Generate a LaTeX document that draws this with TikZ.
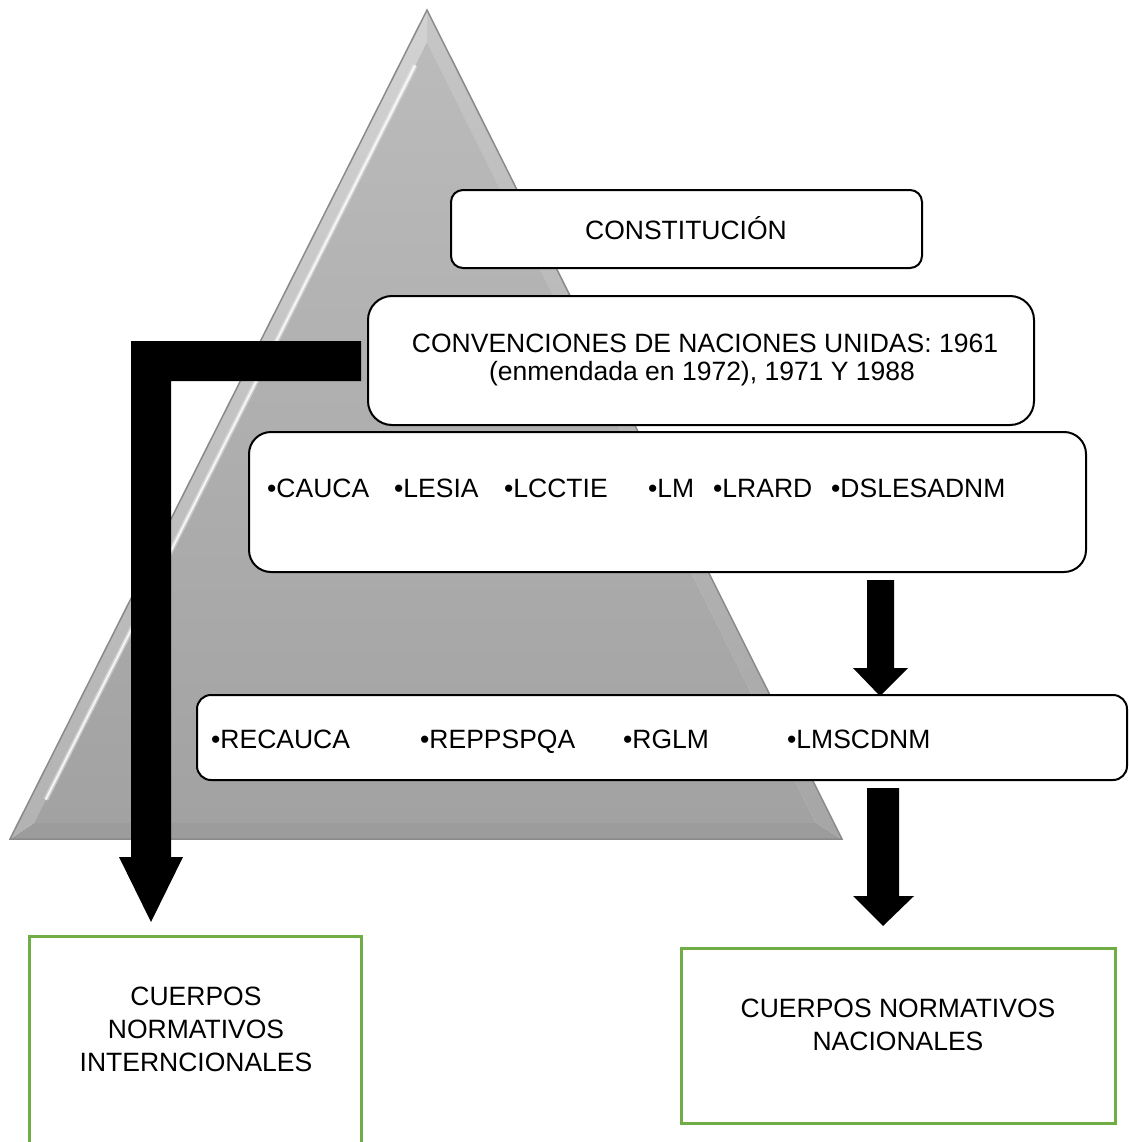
\documentclass[tikz,border=0pt]{standalone}
\usepackage{fontspec}
\setmainfont{Liberation Sans}
\usetikzlibrary{calc}
\begin{document}
\begin{tikzpicture}[x=1pt,y=-1pt,
  txt/.style={inner sep=0pt, font=\fontsize{26.5}{28}\selectfont},
  box/.style={draw=black, line width=2pt, fill=white, inner sep=0pt, rounded corners=#1},
  greenbox/.style={draw=boxgreen, line width=3pt, fill=white, inner sep=0pt},
  blockarrow/.style={fill=black}]
\definecolor{boxgreen}{HTML}{70AD47}
\definecolor{triedge}{HTML}{8A8A8A}
\definecolor{trileft}{HTML}{D2D2D2}
\definecolor{triright}{HTML}{C6C6C6}
\definecolor{tribase}{HTML}{9C9C9C}
\definecolor{trifacetop}{HTML}{BBBBBB}
\definecolor{trifacebot}{HTML}{A2A2A2}

\useasboundingbox (0,0) rectangle (1128,1142);
\clip (0,0) rectangle (1128,1142);

% bevelled pyramid
\coordinate (A) at (427,10);
\coordinate (L) at (10,839);
\coordinate (R) at (842,839);
\coordinate (a) at (427,42);
\coordinate (l) at (34,823);
\coordinate (r) at (816,823);
\fill[tribase] (L) -- (R) -- (r) -- (l) -- cycle;
\shade[top color=triright, bottom color=tribase!90!white] (A) -- (R) -- (r) -- (a) -- cycle;
\shade[top color=trileft, bottom color=trileft!85!black] (A) -- (L) -- (l) -- (a) -- cycle;
\shade[top color=trifacetop, bottom color=trifacebot] (a) -- (l) -- (r) -- cycle;
\draw[white, line width=5pt, opacity=0.35] ($(a)!0.03!(l)$) -- ($(a)!0.97!(l)$);
\draw[white, line width=2pt, opacity=0.8] ($(a)!0.03!(l)$) -- ($(a)!0.97!(l)$);
\draw[triedge, line width=1.5pt, line join=miter] (A) -- (L) -- (R) -- cycle;

% boxes
\node[box=12pt, minimum width=471pt, minimum height=78pt] (const) at (686.5,229) {};
\node[box=24pt, minimum width=666pt, minimum height=129pt] (conv) at (701,360.5) {};
\node[box=22pt, minimum width=837pt, minimum height=140pt] (leyes) at (667.5,502) {};
\node[box=14pt, minimum width=930pt, minimum height=85pt] (regl) at (662,737.5) {};
\node[greenbox, minimum width=332pt, minimum height=230pt] (intl) at (195,1051) {};
\node[greenbox, minimum width=434pt, minimum height=175pt] (nac) at (898,1035.5) {};

% texts
\node[txt, anchor=base] (tconst) at (686,239) {CONSTITUCIÓN};
\node[txt, anchor=base] (tconv1) at (705,352) {CONVENCIONES DE NACIONES UNIDAS: 1961};
\node[txt, anchor=base] (tconv2) at (702,380) {(enmendada en 1972), 1971 Y 1988};

\node[txt, anchor=base west] (l1) at (267,497) {•CAUCA};
\node[txt, anchor=base west] (l2) at (394,497) {•LESIA};
\node[txt, anchor=base west] (l3) at (504,497) {•LCCTIE};
\node[txt, anchor=base west] (l4) at (648,497) {•LM};
\node[txt, anchor=base west] (l5) at (713,497) {•LRARD};
\node[txt, anchor=base west] (l6) at (831,497) {•DSLESADNM};

\node[txt, anchor=base west] (r1) at (211,748) {•RECAUCA};
\node[txt, anchor=base west] (r2) at (420,748) {•REPPSPQA};
\node[txt, anchor=base west] (r3) at (623,748) {•RGLM};
\node[txt, anchor=base west] (r4) at (787,748) {•LMSCDNM};

\node[txt, anchor=base] (ti1) at (196,1005) {CUERPOS};
\node[txt, anchor=base] (ti2) at (196,1038) {NORMATIVOS};
\node[txt, anchor=base] (ti3) at (196,1071) {INTERNCIONALES};

\node[txt, anchor=base] (tn1) at (898,1017) {CUERPOS NORMATIVOS};
\node[txt, anchor=base] (tn2) at (898,1050) {NACIONALES};

% block arrows
\fill[blockarrow] (361,341) -- (131,341) -- (131,857) -- (119,857) -- (151,922)
  -- (183,857) -- (171,857) -- (171,381) -- (361,381) -- cycle;
\fill[blockarrow] (867,580) -- (894,580) -- (894,668) -- (908,668) -- (880,696)
  -- (853,668) -- (867,668) -- cycle;
\fill[blockarrow] (867,788) -- (899,788) -- (899,896) -- (914,896) -- (883,926)
  -- (853,896) -- (867,896) -- cycle;
\end{tikzpicture}
\end{document}
